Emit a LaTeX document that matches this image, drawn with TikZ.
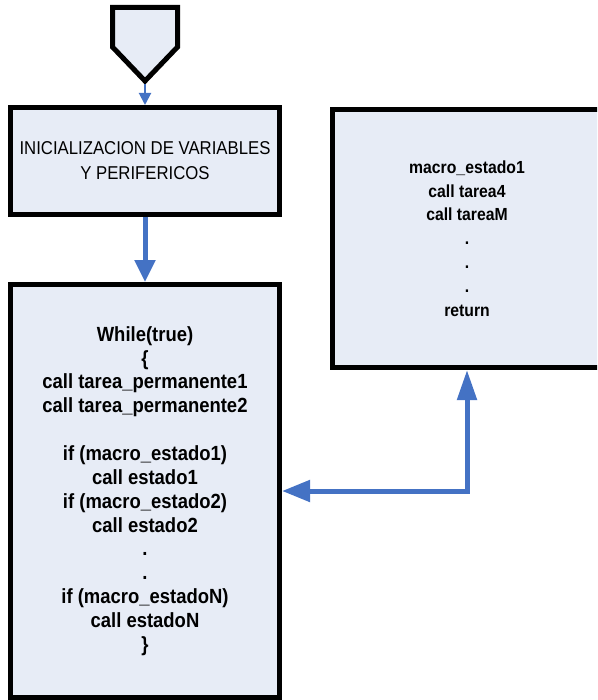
\documentclass[tikz,border=0pt]{standalone}
\usepackage{fontspec}
\usetikzlibrary{arrows.meta}
\newfontfamily\narrowsans[FakeStretch=0.9]{Liberation Sans}
\definecolor{boxfill}{RGB}{231,236,246}
\definecolor{flowblue}{RGB}{68,114,196}
\begin{document}
\begin{tikzpicture}[x=1pt,y=-1pt,
  block/.style={draw=black, line width=5pt, fill=boxfill, minimum width=269pt,
    inner sep=0pt, align=center},
  inittext/.style={font=\narrowsans\fontsize{18.6}{25}\selectfont},
  looptext/.style={font=\narrowsans\fontsize{20.5}{23.85}\selectfont\bfseries},
  statetext/.style={font=\narrowsans\fontsize{17.5}{23.8}\selectfont\bfseries},
  bigarrow/.style={draw=flowblue, line width=5pt,
    -{Triangle[length=22pt,width=20pt]}},
  bigarrows/.style={draw=flowblue, line width=5pt,
    {Triangle[length=28pt,width=21pt]}-{Triangle[length=30pt,width=19pt]}},
  smallarrow/.style={draw=flowblue, line width=2pt,
    -{Triangle[length=12pt,width=12pt]}}]
\useasboundingbox (0,0) rectangle (597,700);
\clip (0,0) rectangle (597,700);

% off-page connector at the top
\draw[line width=5pt, fill=boxfill, line join=miter]
  (112.5,7.5) -- (177.5,7.5) -- (177.5,47) -- (145,81) -- (112.5,47) -- cycle;
\coordinate (start) at (145,84);

% initialisation block
\node[block, inittext, minimum height=107pt] (init) at (145,161)
  {INICIALIZACION DE VARIABLES\\ Y PERIFERICOS};

% main loop
\node[block, looptext, minimum height=413pt] (loop) at (145,491)
  {While(true)\\ \{\\ call tarea\_permanente1\\ call tarea\_permanente2\\[23.85pt]
   if (macro\_estado1)\\ call estado1\\ if (macro\_estado2)\\ call estado2\\
   .\\ .\\ if (macro\_estadoN)\\ call estadoN\\ \}};

% state routine
\node[block, statetext, minimum height=258pt] (state) at (467,238.5)
  {macro\_estado1\\ call tarea4\\ call tareaM\\ .\\ .\\ .\\ return};

% connectors
\draw[smallarrow] (start) -- (init.north);
\draw[bigarrow] (init.south) -- (loop.north);
\draw[bigarrows] (loop.east) -| (state.south);
\end{tikzpicture}
\end{document}
